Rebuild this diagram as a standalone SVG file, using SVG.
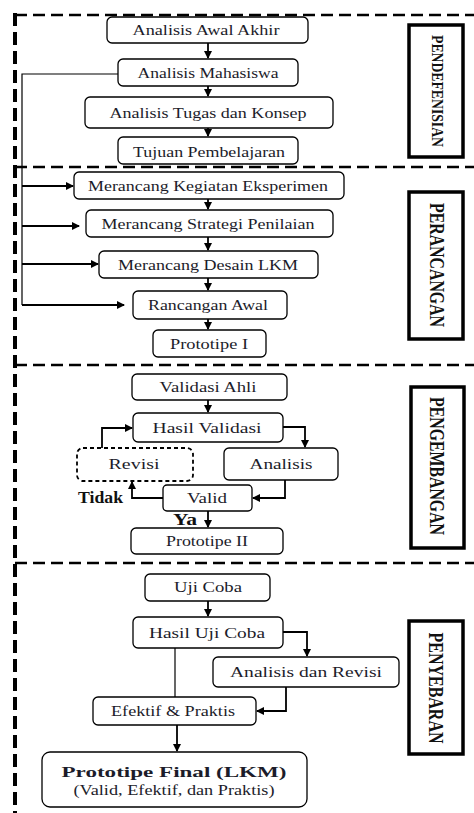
<svg xmlns="http://www.w3.org/2000/svg" width="474" height="813" viewBox="0 0 474 813">
<style>
.bx{fill:#fff;stroke:#000;stroke-width:1.3}
.dbx{fill:#fff;stroke:#000;stroke-width:1.8;stroke-dasharray:4 3}
.t{font-family:"Liberation Serif","Times New Roman",serif;font-size:15.5px;fill:#1c1c2a;text-anchor:middle}
.lb{fill:#fff;stroke:#000;stroke-width:3.5}
.vt{font-family:"Liberation Serif","Times New Roman",serif;font-weight:bold;fill:#111;text-anchor:middle;dominant-baseline:central}
.c{fill:none;stroke:#000;stroke-width:1.8}
.ct{fill:none;stroke:#000;stroke-width:1.2}
.dv{fill:none;stroke:#000;stroke-width:2.5;stroke-dasharray:12 6}
</style>
<defs>
<marker id="ah" markerUnits="userSpaceOnUse" markerWidth="9" markerHeight="9" refX="7" refY="4" orient="auto">
<path d="M0,0 L8,4 L0,8 Z" fill="#000"/>
</marker>
</defs>
<g id="frame">
<path class="dv" d="M15,15 H474"/>
<path class="dv" d="M15,167 H474"/>
<path class="dv" d="M15,365 H474"/>
<path class="dv" d="M15,563 H474"/>
<path fill="none" stroke="#000" stroke-width="4" stroke-dasharray="13 6" d="M15,13 V813"/>
</g>
<g id="connectors">
<path class="c" d="M208,43 V58" marker-end="url(#ah)"/>
<path class="c" d="M208,86 V96" marker-end="url(#ah)"/>
<path class="c" d="M208,128 V136" marker-end="url(#ah)"/>
<path class="ct" d="M118,74 H22 V305"/>
<path class="c" d="M22,186 H73" marker-end="url(#ah)"/>
<path class="c" d="M22,226 H79" marker-end="url(#ah)"/>
<path class="c" d="M22,264 H98" marker-end="url(#ah)"/>
<path class="c" d="M22,305 H124" marker-end="url(#ah)"/>
<path class="c" d="M208,199 V209" marker-end="url(#ah)"/>
<path class="c" d="M208,237 V250" marker-end="url(#ah)"/>
<path class="c" d="M208,278 V290" marker-end="url(#ah)"/>
<path class="c" d="M208,319 V329" marker-end="url(#ah)"/>
<path class="c" d="M208,400 V412" marker-end="url(#ah)"/>
<path class="c" d="M283,427 H305 V447" marker-end="url(#ah)"/>
<path class="c" d="M285,480 V498 H253" marker-end="url(#ah)"/>
<path class="c" d="M163,498 H132 V482" marker-end="url(#ah)"/>
<path class="c" d="M102,448 V428 H132" marker-end="url(#ah)"/>
<path class="c" d="M208,511 V527" marker-end="url(#ah)"/>
<path class="c" d="M208,601 V616" marker-end="url(#ah)"/>
<path class="c" d="M283,632 H307 V656" marker-end="url(#ah)"/>
<path class="c" d="M286,687 V711 H257" marker-end="url(#ah)"/>
<path class="ct" d="M175,648 V697"/>
<path class="c" stroke-width="2.4" d="M177,725 V751" marker-end="url(#ah)"/>
</g>
<g id="n1"><rect class="bx" x="107" y="17" width="201" height="26" rx="5"/><text class="t" x="206" y="35" textLength="147" lengthAdjust="spacingAndGlyphs">Analisis Awal Akhir</text></g>
<g id="n2"><rect class="bx" x="118" y="59" width="180" height="27" rx="5"/><text class="t" x="208" y="78" textLength="141" lengthAdjust="spacingAndGlyphs">Analisis Mahasiswa</text></g>
<g id="n3"><rect class="bx" x="85" y="97" width="248" height="31" rx="5"/><text class="t" x="208" y="118" textLength="197" lengthAdjust="spacingAndGlyphs">Analisis Tugas dan Konsep</text></g>
<g id="n4"><rect class="bx" x="118" y="137" width="180" height="27" rx="5"/><text class="t" x="209" y="157" textLength="152" lengthAdjust="spacingAndGlyphs">Tujuan Pembelajaran</text></g>
<g id="n5"><rect class="bx" x="74" y="172" width="270" height="27" rx="5"/><text class="t" x="208" y="191" textLength="240" lengthAdjust="spacingAndGlyphs">Merancang Kegiatan Eksperimen</text></g>
<g id="n6"><rect class="bx" x="86" y="210" width="247" height="27" rx="5"/><text class="t" x="208" y="229" textLength="213" lengthAdjust="spacingAndGlyphs">Merancang Strategi Penilaian</text></g>
<g id="n7"><rect class="bx" x="99" y="251" width="219" height="27" rx="5"/><text class="t" x="208" y="270" textLength="180" lengthAdjust="spacingAndGlyphs">Merancang Desain LKM</text></g>
<g id="n8"><rect class="bx" x="133" y="291" width="154" height="28" rx="5"/><text class="t" x="208" y="310" textLength="120" lengthAdjust="spacingAndGlyphs">Rancangan Awal</text></g>
<g id="n9"><rect class="bx" x="153" y="330" width="113" height="27" rx="5"/><text class="t" x="209" y="349" textLength="78" lengthAdjust="spacingAndGlyphs">Prototipe I</text></g>
<g id="n10"><rect class="bx" x="132" y="374" width="155" height="26" rx="5"/><text class="t" x="208" y="392" textLength="97" lengthAdjust="spacingAndGlyphs">Validasi Ahli</text></g>
<g id="n11"><rect class="bx" x="133" y="413" width="150" height="29" rx="5"/><text class="t" x="207" y="433" textLength="109" lengthAdjust="spacingAndGlyphs">Hasil Validasi</text></g>
<g id="n12"><rect class="dbx" x="77" y="448" width="116" height="33" rx="6"/><text class="t" x="134" y="469" textLength="51" lengthAdjust="spacingAndGlyphs">Revisi</text></g>
<g id="n13"><rect class="bx" x="224" y="448" width="114" height="32" rx="5"/><text class="t" x="281" y="469" textLength="63" lengthAdjust="spacingAndGlyphs">Analisis</text></g>
<g id="n14"><rect class="bx" x="163" y="485" width="89" height="26" rx="4"/><text class="t" x="207" y="503" textLength="40" lengthAdjust="spacingAndGlyphs">Valid</text></g>
<g id="n15"><rect class="bx" x="131" y="528" width="152" height="26" rx="5"/><text class="t" x="207" y="546" textLength="82" lengthAdjust="spacingAndGlyphs">Prototipe II</text></g>
<g id="lbl-tidak"><text x="78" y="503" font-family="Liberation Serif,serif" font-weight="bold" font-size="17" fill="#111" textLength="45" lengthAdjust="spacingAndGlyphs">Tidak</text></g>
<g id="lbl-ya"><text x="173" y="525" font-family="Liberation Serif,serif" font-weight="bold" font-size="17" fill="#111" textLength="24" lengthAdjust="spacingAndGlyphs">Ya</text></g>
<g id="n16"><rect class="bx" x="145" y="574" width="125" height="27" rx="5"/><text class="t" x="208" y="592" textLength="68" lengthAdjust="spacingAndGlyphs">Uji Coba</text></g>
<g id="n17"><rect class="bx" x="133" y="617" width="150" height="31" rx="5"/><text class="t" x="207" y="638" textLength="116" lengthAdjust="spacingAndGlyphs">Hasil Uji Coba</text></g>
<g id="n18"><rect class="bx" x="213" y="657" width="186" height="30" rx="5"/><text class="t" x="306" y="677" textLength="152" lengthAdjust="spacingAndGlyphs">Analisis dan Revisi</text></g>
<g id="n19"><rect class="bx" x="93" y="697" width="163" height="28" rx="5"/><text class="t" x="173" y="716" textLength="124" lengthAdjust="spacingAndGlyphs">Efektif &amp; Praktis</text></g>
<g id="n20"><rect class="bx" x="42" y="752" width="265" height="55" rx="8"/>
<text class="t" x="174" y="777" font-size="20" font-weight="bold" textLength="225" lengthAdjust="spacingAndGlyphs">Prototipe Final (LKM)</text>
<text class="t" x="174" y="795" font-size="13" textLength="201" lengthAdjust="spacingAndGlyphs">(Valid, Efektif, dan Praktis)</text></g>
<g id="sec1"><rect class="lb" x="409" y="25" width="54" height="132"/><text class="vt" transform="translate(437,91) rotate(90)" font-size="16" textLength="112" lengthAdjust="spacingAndGlyphs">PENDEFENISIAN</text></g>
<g id="sec2"><rect class="lb" x="409" y="192" width="54" height="147"/><text class="vt" transform="translate(437,265) rotate(90)" font-size="21" textLength="124" lengthAdjust="spacingAndGlyphs">PERANCANGAN</text></g>
<g id="sec3"><rect class="lb" x="411" y="387" width="53" height="161"/><text class="vt" transform="translate(437,466) rotate(90)" font-size="21" textLength="138" lengthAdjust="spacingAndGlyphs">PENGEMBANGAN</text></g>
<g id="sec4"><rect class="lb" x="409" y="621" width="54" height="133"/><text class="vt" transform="translate(436,688) rotate(90)" font-size="21" textLength="111" lengthAdjust="spacingAndGlyphs">PENYEBARAN</text></g>
</svg>
